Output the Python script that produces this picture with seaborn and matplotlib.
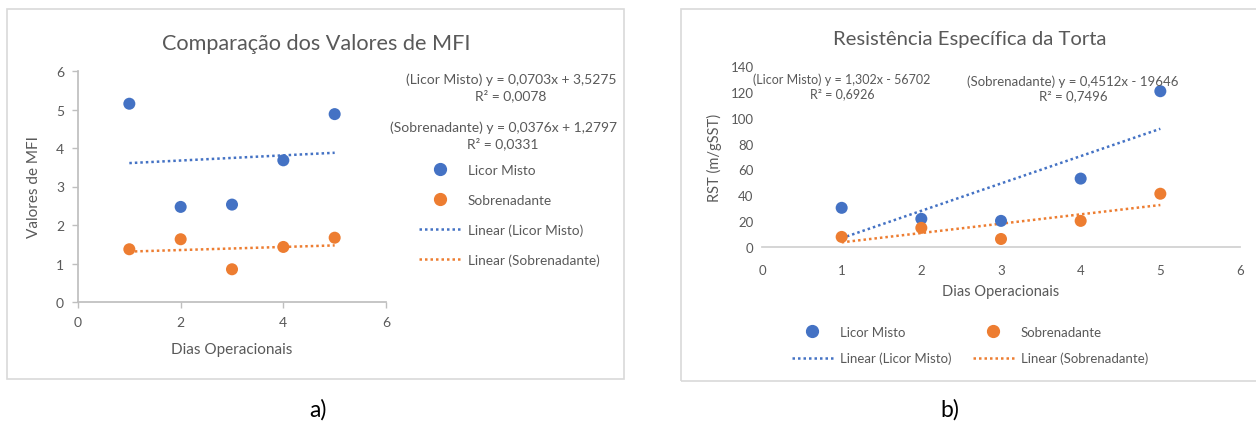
import numpy as np
import pandas as pd
import matplotlib
matplotlib.use('Agg')
import matplotlib.pyplot as plt
import seaborn as sns
from matplotlib.lines import Line2D
from matplotlib.patches import Rectangle

# Data
dias = [1, 2, 3, 4, 5]
mfi_licor = [5.15, 2.47, 2.53, 3.68, 4.88]
mfi_sobre = [1.37, 1.63, 0.85, 1.43, 1.67]
rst_licor = [30.3, 21.8, 20.2, 52.9, 120.5]
rst_sobre = [7.8, 14.8, 6.2, 20.2, 41.2]

eq_mfi_licor = '(Licor Misto) y = 0,0703x + 3,5275\nR² = 0,0078'
eq_mfi_sobre = '(Sobrenadante) y = 0,0376x + 1,2797\nR² = 0,0331'
eq_rst_licor = '(Licor Misto) y = 1,302x - 56702\nR² = 0,6926'
eq_rst_sobre = '(Sobrenadante) y = 0,4512x - 19646\nR² = 0,7496'

blue = '#4472C4'
orange = '#ED7D31'
gray = '#595959'

sns.set_theme(style='white')
plt.rcParams['font.family'] = ['Lato', 'DejaVu Sans']

W, H = 1256, 427
fig = plt.figure(figsize=(W / 100, H / 100), dpi=100)


def fx(px):
    return px / W


def fy(py):
    return 1 - py / H


# frames around the two charts
fig.patches.append(Rectangle((fx(7), fy(380)), fx(617), 370 / H, transform=fig.transFigure,
                             fill=False, edgecolor='#D9D9D9', lw=1.2))
fig.patches.append(Rectangle((fx(681), fy(382)), fx(580), 372 / H, transform=fig.transFigure,
                             fill=False, edgecolor='#D9D9D9', lw=1.2))

df_mfi = pd.DataFrame({'dias': dias, 'licor': mfi_licor, 'sobre': mfi_sobre})
df_rst = pd.DataFrame({'dias': dias, 'licor': rst_licor, 'sobre': rst_sobre})

# ---------- a) MFI ----------
ax1 = fig.add_axes([fx(78), fy(303), fx(308), 231 / H])
for col, c in [('licor', blue), ('sobre', orange)]:
    sns.regplot(data=df_mfi, x='dias', y=col, ax=ax1, scatter=False, ci=None, truncate=True,
                line_kws=dict(color=c, ls=(0, (1, 1.2)), lw=1.8))
    sns.scatterplot(data=df_mfi, x='dias', y=col, ax=ax1, color=c, s=75, edgecolor='none', zorder=3)
ax1.set_xlim(0, 6)
ax1.set_ylim(0, 6)
ax1.set_xticks([0, 2, 4, 6])
ax1.set_yticks(range(0, 7))
ax1.set_xlabel('Dias Operacionais', color=gray, fontsize=11, labelpad=10)
ax1.set_ylabel('Valores de MFI', color=gray, fontsize=11, labelpad=11)
ax1.set_title('Comparação dos Valores de MFI', color=gray, fontsize=15.6, pad=16, x=0.775)
for s in ['top', 'right']:
    ax1.spines[s].set_visible(False)
for s in ['left', 'bottom']:
    ax1.spines[s].set_color('#BFBFBF')
ax1.tick_params(axis='both', colors=gray, labelsize=10, length=4, width=1, direction='out',
                left=True, bottom=True, pad=6)
ax1.tick_params(color='#BFBFBF')

fig.text(fx(511), fy(88), eq_mfi_licor, ha='center', va='center', color=gray, fontsize=10,
         linespacing=1.3)
fig.text(fx(503), fy(136), eq_mfi_sobre, ha='center', va='center', color=gray, fontsize=10,
         linespacing=1.3)

h_lm = Line2D([], [], marker='o', color=blue, ls='none', markersize=8.5)
h_sb = Line2D([], [], marker='o', color=orange, ls='none', markersize=8.5)
h_llm = Line2D([], [], color=blue, ls=(0, (1, 1.2)), lw=1.8)
h_lsb = Line2D([], [], color=orange, ls=(0, (1, 1.2)), lw=1.8)

fig.legend([h_lm, h_sb, h_llm, h_lsb],
           ['Licor Misto', 'Sobrenadante', 'Linear (Licor Misto)', 'Linear (Sobrenadante)'],
           loc='upper left', bbox_to_anchor=(fx(419), fy(165)), frameon=False, fontsize=9.8,
           labelcolor=gray, handlelength=3.1, handletextpad=0.5, labelspacing=1.3,
           borderaxespad=0, borderpad=0)

# ---------- b) RST ----------
ax2 = fig.add_axes([fx(762), fy(248), fx(478), 181 / H])
for col, c in [('licor', blue), ('sobre', orange)]:
    sns.regplot(data=df_rst, x='dias', y=col, ax=ax2, scatter=False, ci=None, truncate=True,
                line_kws=dict(color=c, ls=(0, (1, 1.2)), lw=1.8))
    sns.scatterplot(data=df_rst, x='dias', y=col, ax=ax2, color=c, s=75, edgecolor='none', zorder=3)
ax2.set_xlim(0, 6)
ax2.set_ylim(0, 140)
ax2.set_xticks(range(0, 7))
ax2.set_yticks(range(0, 141, 20))
ax2.set_xlabel('Dias Operacionais', color=gray, fontsize=10.5, labelpad=6)
ax2.set_ylabel('RST (m/gSST)', color=gray, fontsize=10.5, labelpad=6)
ax2.set_title('Resistência Específica da Torta', color=gray, fontsize=14.6, pad=16, x=0.435)
for s in ['top', 'right', 'left']:
    ax2.spines[s].set_visible(False)
ax2.spines['bottom'].set_color('#D0D0D0')
ax2.tick_params(axis='both', colors=gray, labelsize=9.5, length=0, pad=12)
ax2.tick_params(axis='y', pad=6)

fig.text(fx(842), fy(87), eq_rst_licor, ha='center', va='center', color=gray, fontsize=9.0,
         linespacing=1.25)
fig.text(fx(1073), fy(89), eq_rst_sobre, ha='center', va='center', color=gray, fontsize=9.5,
         linespacing=1.2)

fig.legend([h_lm, h_llm, h_sb, h_lsb],
           ['Licor Misto', 'Linear (Licor Misto)', 'Sobrenadante', 'Linear (Sobrenadante)'],
           loc='upper left', bbox_to_anchor=(fx(792), fy(327)), ncol=2, frameon=False, fontsize=9.5,
           labelcolor=gray, handlelength=3.1, handletextpad=0.55, labelspacing=1.05,
           columnspacing=1.6, borderaxespad=0, borderpad=0)

# captions
fig.text(fx(318), fy(410), 'a)', ha='center', va='center', fontsize=16.5, color='black')
fig.text(fx(950), fy(410), 'b)', ha='center', va='center', fontsize=16.5, color='black')

fig.savefig('out.png', dpi=100)
